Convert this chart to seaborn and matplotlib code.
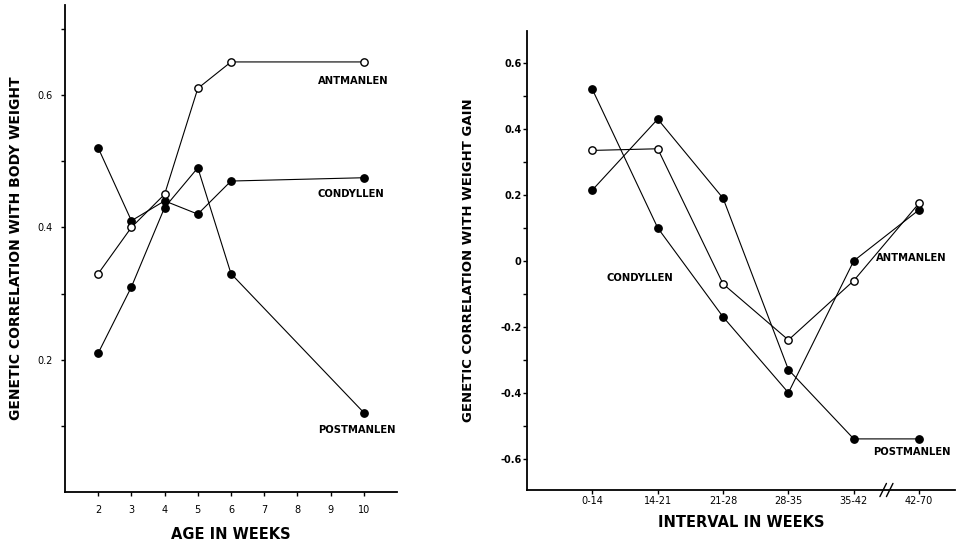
import numpy as np
import pandas as pd
import seaborn as sns
import matplotlib.pyplot as plt

# body weight panel
weeks = [2, 3, 4, 5, 6, 10]
ant_bw = [0.33, 0.40, 0.45, 0.61, 0.65, 0.65]
con_bw = [0.52, 0.41, 0.44, 0.42, 0.47, 0.475]
post_bw = [0.21, 0.31, 0.43, 0.49, 0.33, 0.12]

# weight gain panel
intervals = ["0-14", "14-21", "21-28", "28-35", "35-42", "42-70"]
ant_wg = [0.335, 0.34, -0.07, -0.24, -0.06, 0.175]
con_wg = [0.52, 0.10, -0.17, -0.40, 0.0, 0.155]
post_wg = [0.215, 0.43, 0.19, -0.33, -0.54, -0.54]

sns.set_style("ticks")
plt.rcParams['font.family'] = ['DejaVu Sans']
plt.rcParams.update({"text.color": "black", "axes.labelcolor": "black",
                     "xtick.color": "black", "ytick.color": "black",
                     "axes.edgecolor": "black"})

fig = plt.figure(figsize=(9.69, 5.47), dpi=100)
ax1 = fig.add_axes([0.0671, 0.1005, 0.3426, 0.8903])
ax2 = fig.add_axes([0.5439, 0.1042, 0.4417, 0.839])

line_kw = dict(color="black", linewidth=0.8, marker="o", markersize=5.3,
               markeredgecolor="black", markeredgewidth=1.0)

df1 = pd.DataFrame({"week": weeks, "ant": ant_bw, "con": con_bw, "post": post_bw})
sns.lineplot(x="week", y="post", data=df1, ax=ax1, markerfacecolor="black", **line_kw)
sns.lineplot(x="week", y="con", data=df1, ax=ax1, markerfacecolor="black", **line_kw)
sns.lineplot(x="week", y="ant", data=df1, ax=ax1, markerfacecolor="white", **line_kw)

ax1.set_xlim(1, 11)
ax1.set_ylim(0, 0.736)
ax1.set_xticks(range(2, 11))
ax1.set_xticklabels([str(w) for w in range(2, 11)], fontsize=7)
ax1.set_yticks([0.1, 0.2, 0.3, 0.4, 0.5, 0.6, 0.7])
ax1.set_yticklabels(["", "0.2", "", "0.4", "", "0.6", ""], fontsize=7)
ax1.tick_params(length=3, width=1, pad=6)
ax1.set_xlabel("AGE IN WEEKS", fontsize=10.5, fontweight="bold", labelpad=9)
ax1.set_ylabel("GENETIC CORRELATION WITH BODY WEIGHT", fontsize=10, fontweight="bold", labelpad=10)
lab = dict(fontsize=7.2, fontweight="bold", ha="left", va="center")
ax1.text(8.62, 0.621, "ANTMANLEN", **lab)
ax1.text(8.62, 0.451, "CONDYLLEN", **lab)
ax1.text(8.62, 0.094, "POSTMANLEN", **lab)

pos = list(range(len(intervals)))
df2 = pd.DataFrame({"pos": pos, "ant": ant_wg, "con": con_wg, "post": post_wg})
sns.lineplot(x="pos", y="post", data=df2, ax=ax2, markerfacecolor="black", **line_kw)
sns.lineplot(x="pos", y="con", data=df2, ax=ax2, markerfacecolor="black", **line_kw)
sns.lineplot(x="pos", y="ant", data=df2, ax=ax2, markerfacecolor="white", **line_kw)

ax2.set_xlim(-1, 5.55)
ax2.set_ylim(-0.695, 0.697)
ax2.set_xticks(pos)
ax2.set_xticklabels(intervals, fontsize=7)
ax2.set_yticks(np.round(np.arange(-0.6, 0.61, 0.1), 1))
ax2.set_yticklabels(["-0.6", "", "-0.4", "", "-0.2", "", "0", "", "0.2", "", "0.4", "", "0.6"],
                    fontsize=7, fontweight="bold")
ax2.tick_params(length=3, width=1, pad=1)
ax2.set_xlabel("INTERVAL IN WEEKS", fontsize=10.5, fontweight="bold", labelpad=7)
ax2.set_ylabel("GENETIC CORRELATION WITH WEIGHT GAIN", fontsize=9.5, fontweight="bold", labelpad=18)
ax2.text(4.34, 0.01, "ANTMANLEN", **lab)
ax2.text(0.22, -0.052, "CONDYLLEN", **lab)
ax2.text(4.30, -0.581, "POSTMANLEN", **lab)

# axis break marks
for dx in (-0.05, 0.05):
    ax2.plot([4.45 + dx, 4.55 + dx], [-0.715, -0.675], color="black", lw=1, clip_on=False)

for ax in (ax1, ax2):
    sns.despine(ax=ax)
    ax.spines["left"].set_linewidth(1.3)
    ax.spines["bottom"].set_linewidth(1.3)

fig.savefig("out.png", dpi=100)
